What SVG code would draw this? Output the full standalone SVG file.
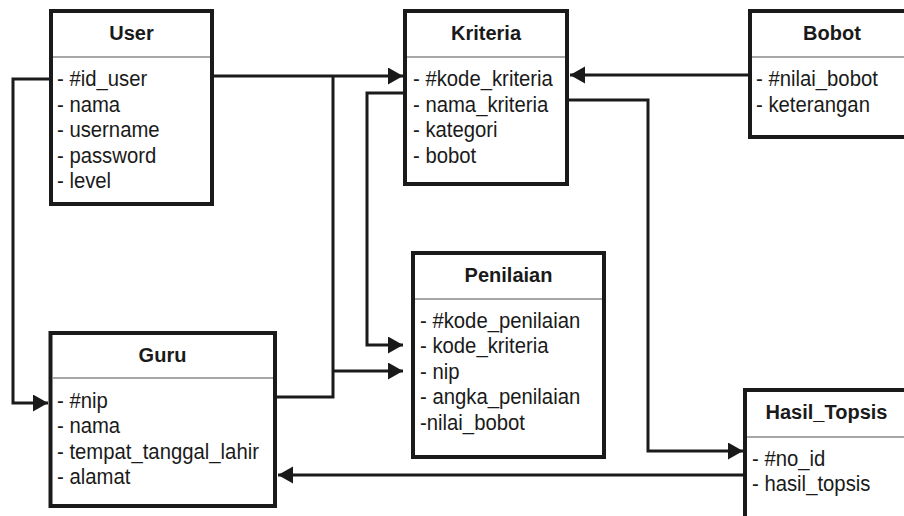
<svg xmlns="http://www.w3.org/2000/svg" width="904" height="516" viewBox="0 0 904 516">
  <style>
    .box { fill: #fff; stroke: #1a1a1a; stroke-width: 4; }
    .sep { stroke: #8a8a8a; stroke-width: 1.5; }
    .title { font-family: "Liberation Sans", Arial, sans-serif; font-size: 20px; font-weight: bold; fill: #1a1a1a; text-anchor: middle; }
    .attr { font-family: "Liberation Sans", Arial, sans-serif; font-size: 22px; fill: #1a1a1a; }
    .conn { fill: none; stroke: #1a1a1a; stroke-width: 3; stroke-linejoin: miter; }
  </style>
  <defs>
    <marker id="arrow" markerUnits="userSpaceOnUse" markerWidth="16" markerHeight="18" refX="15" refY="8.5" orient="auto">
      <path d="M0,0 L15,8.5 L0,17 z" fill="#1a1a1a"/>
    </marker>
  </defs>
  <rect width="904" height="516" fill="#fff"/>

  <!-- relations -->
  <g id="connectors">
    <path class="conn" d="M214,76 H403" marker-end="url(#arrow)"/>
    <path class="conn" d="M333,76 V397 H277"/>
    <path class="conn" d="M333,371 H403" marker-end="url(#arrow)"/>
    <path class="conn" d="M49,79 H13 V403 H48" marker-end="url(#arrow)"/>
    <path class="conn" d="M403,93 H367 V345 H403" marker-end="url(#arrow)"/>
    <path class="conn" d="M748,75 H570" marker-end="url(#arrow)"/>
    <path class="conn" d="M569,100 H648 V451 H743" marker-end="url(#arrow)"/>
    <path class="conn" d="M743,475 H278" marker-end="url(#arrow)"/>
  </g>

  <!-- attribute columns use a slightly condensed face: scale(0.923,1) -->
  <g id="user">
    <rect class="box" x="51" y="11" width="161" height="193"/>
    <line class="sep" x1="53" y1="57" x2="210" y2="57"/>
    <text class="title" x="131.5" y="40">User</text>
    <g transform="translate(57,0) scale(0.923,1)">
      <text class="attr" x="0" y="86.5">- #id_user</text>
      <text class="attr" x="0" y="112">- nama</text>
      <text class="attr" x="0" y="137.5">- username</text>
      <text class="attr" x="0" y="163">- password</text>
      <text class="attr" x="0" y="188.5">- level</text>
    </g>
  </g>

  <g id="kriteria">
    <rect class="box" x="405" y="11" width="162" height="173"/>
    <line class="sep" x1="407" y1="57" x2="565" y2="57"/>
    <text class="title" x="486" y="40">Kriteria</text>
    <g transform="translate(413,0) scale(0.923,1)">
      <text class="attr" x="0" y="86.5">- #kode_kriteria</text>
      <text class="attr" x="0" y="112">- nama_kriteria</text>
      <text class="attr" x="0" y="137.5">- kategori</text>
      <text class="attr" x="0" y="163">- bobot</text>
    </g>
  </g>

  <g id="bobot">
    <rect class="box" x="750" y="11" width="170" height="126"/>
    <line class="sep" x1="752" y1="57" x2="918" y2="57"/>
    <text class="title" x="832" y="40">Bobot</text>
    <g transform="translate(756,0) scale(0.923,1)">
      <text class="attr" x="0" y="86.5">- #nilai_bobot</text>
      <text class="attr" x="0" y="112">- keterangan</text>
    </g>
  </g>

  <g id="penilaian">
    <rect class="box" x="413" y="253" width="191" height="204"/>
    <line class="sep" x1="415" y1="299" x2="602" y2="299"/>
    <text class="title" x="508.5" y="282">Penilaian</text>
    <g transform="translate(420,0) scale(0.923,1)">
      <text class="attr" x="0" y="328">- #kode_penilaian</text>
      <text class="attr" x="0" y="353.5">- kode_kriteria</text>
      <text class="attr" x="0" y="379">- nip</text>
      <text class="attr" x="0" y="404.5">- angka_penilaian</text>
      <text class="attr" x="0" y="430">-nilai_bobot</text>
    </g>
  </g>

  <g id="guru">
    <rect class="box" x="50.5" y="333" width="224.5" height="173"/>
    <line class="sep" x1="52" y1="378" x2="273" y2="378"/>
    <text class="title" x="162.5" y="362">Guru</text>
    <g transform="translate(57,0) scale(0.923,1)">
      <text class="attr" x="0" y="408">- #nip</text>
      <text class="attr" x="0" y="433.5">- nama</text>
      <text class="attr" x="0" y="459">- tempat_tanggal_lahir</text>
      <text class="attr" x="0" y="484.5">- alamat</text>
    </g>
  </g>

  <g id="hasil_topsis">
    <rect class="box" x="745" y="390" width="180" height="140"/>
    <line class="sep" x1="747" y1="437" x2="923" y2="437"/>
    <text class="title" x="826.5" y="419">Hasil_Topsis</text>
    <g transform="translate(752,0) scale(0.923,1)">
      <text class="attr" x="0" y="466">- #no_id</text>
      <text class="attr" x="0" y="491">- hasil_topsis</text>
    </g>
  </g>
</svg>
